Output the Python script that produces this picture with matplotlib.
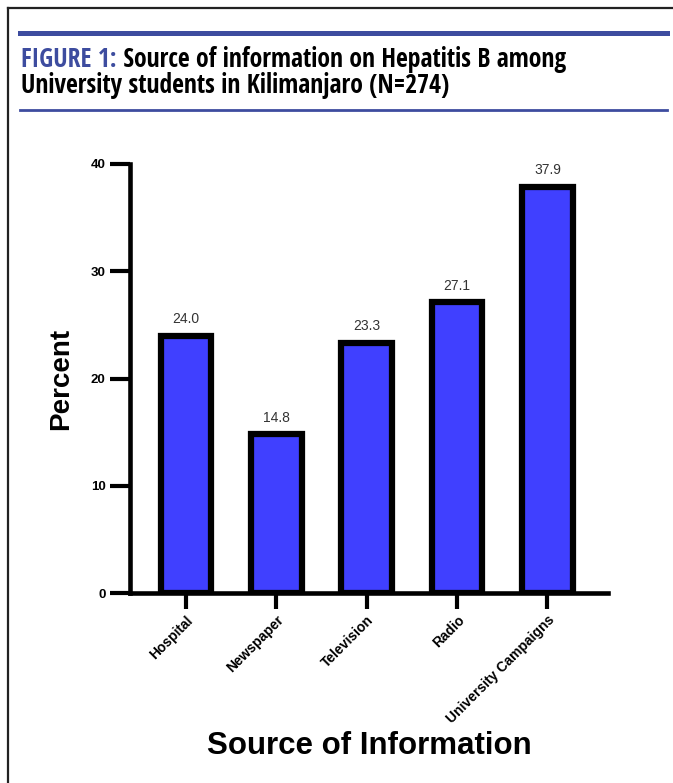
import matplotlib.pyplot as plt
from matplotlib.lines import Line2D
from matplotlib.text import Annotation
from matplotlib import font_manager

# percent of students by source of information (N=274)
sources = ["Hospital", "Newspaper", "Television", "Radio", "University Campaigns"]
percent = [24.0, 14.8, 23.3, 27.1, 37.9]
yticks = [0, 10, 20, 30, 40]

BAR_BLUE = "#4040FF"
TITLE_BLUE = "#3D4C9F"

# pick a condensed face for the heading if one is installed
names = {f.name for f in font_manager.fontManager.ttflist}
narrow = "Liberation Sans"
title_size = 15
for cand in ["Open Sans Condensed", "Liberation Sans Narrow", "Roboto Condensed", "DejaVu Sans Condensed"]:
    if cand in names:
        narrow = cand
        title_size = 18.5
        break

plt.rcParams["font.family"] = ["Liberation Sans", "DejaVu Sans"]

fig = plt.figure(figsize=(6.73, 7.83), dpi=100)
W, H = 673, 783


def fx(px):
    return px / W


def fy(py):
    return 1 - py / H


# frame around the figure panel
fig.add_artist(Line2D([fx(8), fx(8)], [fy(8), 0], color="#222222", lw=1.6))
fig.add_artist(Line2D([fx(8), 1], [fy(8), fy(8)], color="#222222", lw=1.6))

# title block with blue rules
fig.add_artist(Line2D([fx(20), fx(667)], [fy(33), fy(33)], color=TITLE_BLUE, lw=3.6))
fig.add_artist(Line2D([fx(20), fx(667)], [fy(110), fy(110)], color=TITLE_BLUE, lw=2.0))

t1 = fig.text(fx(21), fy(67), "FIGURE 1:", color=TITLE_BLUE, fontsize=title_size,
              fontfamily=narrow, fontweight="bold", va="baseline")
fig.add_artist(Annotation(" Source of information on Hepatitis B among", xy=(1, 0), xycoords=t1,
                          fontsize=title_size, fontfamily=narrow, fontweight="bold", va="bottom"))
fig.text(fx(21), fy(93), "University students in Kilimanjaro (N=274)", fontsize=title_size,
         fontfamily=narrow, fontweight="bold", va="baseline")

ax = fig.add_axes([fx(130), fy(593), fx(608) - fx(130), fy(164) - fy(593)])

x = range(len(sources))
ax.bar(x, percent, width=0.56, color=BAR_BLUE, edgecolor="black", linewidth=4.5, zorder=2)

for xi, v in zip(x, percent):
    ax.text(xi, v + 0.9, f"{v:.1f}", ha="center", va="bottom", fontsize=10, color="#333333")

ax.set_xlim(-0.62, 4.67)
ax.set_ylim(0, 40)
ax.set_yticks(yticks)
ax.set_yticklabels([str(t) for t in yticks], fontsize=9.5, fontweight="bold")
ax.set_xticks(list(x))
ax.set_xticklabels(sources, rotation=45, ha="right", va="top", rotation_mode="anchor",
                   fontsize=10, fontweight="bold")

for s in ["top", "right"]:
    ax.spines[s].set_visible(False)
for s in ["left", "bottom"]:
    ax.spines[s].set_linewidth(3.3)
ax.spines["left"].set_bounds(0, 40)
ax.tick_params(axis="y", length=14.5, width=3, pad=3)
ax.tick_params(axis="x", length=11.5, width=3, pad=3)

ax.set_ylabel("Percent", fontsize=20, fontweight="bold", labelpad=12)
ax.set_xlabel("Source of Information", fontsize=22.5, fontweight="bold", labelpad=3)

fig.savefig("out.png", dpi=100)
